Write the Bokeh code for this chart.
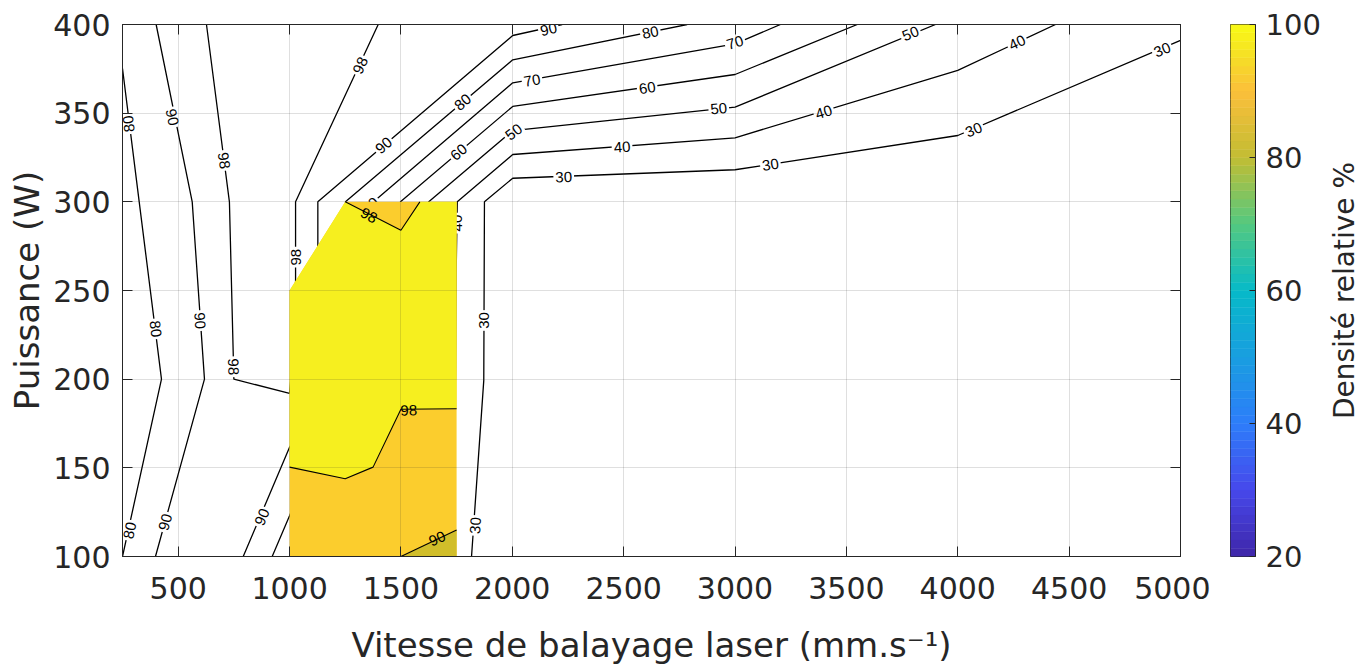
import numpy as np
from bokeh.plotting import figure
from bokeh.models import LinearAxis, FixedTicker, Range1d
from bokeh.layouts import row
from bokeh.embed import file_html
from bokeh.resources import INLINE
from bokeh.core.properties import value

# ---------------- data ----------------
x_ticks = [500, 1000, 1500, 2000, 2500, 3000, 3500, 4000, 4500, 5000]
y_ticks = [100, 150, 200, 250, 300, 350, 400]
cbar_ticks = [20, 40, 60, 80, 100]

# iso-density lines of the large map (x: mm/s, y: W)
c30_x = [5000, 4000, 3000, 2002, 1875, 1872, 1817]
c30_y = [391, 337.4, 318.1, 313.3, 300, 199.3, 100]
c40_x = [4439, 4000, 3000, 2002, 1753, 1748, 1745]
c40_y = [400, 374.1, 336.1, 326.7, 300, 260, 200]
c50_x = [3900, 3000, 2002, 1625, 1625]
c50_y = [400, 353.4, 340.2, 300, 270]
c60_x = [3549, 3000, 2002, 1498, 1498]
c60_y = [400, 371.8, 353.8, 300, 270]
c70_x = [3204, 3000, 2002, 1377, 1400]
c70_y = [400, 389.1, 367.1, 300, 270]
c80a_x = [2785, 2002, 1251, 1300]
c80a_y = [400, 380.1, 300, 270]
c80b_x = [250, 325, 425, 250]
c80b_y = [375.2, 300, 200, 100]
c90a_x = [2224, 2002, 1127, 1127]
c90a_y = [400, 393.8, 300, 250]
c90b_x = [401, 563, 618, 398]
c90b_y = [400, 300, 200, 100]
c90c_x = [792, 1000, 1040]
c90c_y = [100, 161.6, 170]
c98a_x = [627, 730, 750, 1000, 1027, 1027, 1398]
c98a_y = [400, 300, 200, 192, 230, 300, 400]
c98b_x = [922, 1000, 1040]
c98b_y = [100, 123, 135]

# filled zone (refined map)
zone_x = [1000, 1000, 1250, 1750, 1750]
zone_y = [100, 250, 300, 300, 100]
band98_x = [1000, 1250, 1500, 1585, 1750, 1750, 1500, 1375, 1250, 1000]
band98_y = [250, 300, 284, 300, 300, 183.3, 183, 150.4, 143.8, 150.4]
band80_x = [1500, 1750, 1750]
band80_y = [100, 115, 100]
f98a_x = [1250, 1500, 1585]
f98a_y = [300, 284, 300]
f98b_x = [1000, 1250, 1375, 1500, 1750]
f98b_y = [150.4, 143.8, 150.4, 183, 183.3]
f90_x = [1500, 1750]
f90_y = [100, 115]

# contour labels: text, x, y, angle (deg)
lab_text = ["80", "80", "80", "90", "90", "90", "98", "98", "90", "98", "98", "90", "80", "70", "60", "40",
            "90", "80", "70", "70", "60", "50", "50", "50", "40", "40", "40", "30", "30", "30", "30", "30", "30"]
lab_x = [278, 398, 283, 473, 597, 443, 705, 747, 877, 1318, 1027, 1423, 1778, 1363, 1760, 1750,
         2163, 2620, 2089, 3000, 2606, 2007, 2927, 3788, 2493, 3399, 4267, 2231, 3159, 4072, 4918, 1872, 1835]
lab_y = [344, 228.4, 114.7, 347.7, 233, 119.4, 323.3, 207, 122.2, 376.9, 268.8, 331.8, 356.2, 297.9, 328, 288,
         397.2, 395.5, 368.4, 389.7, 364.1, 339.3, 352.5, 394.8, 330.8, 350.5, 389.7, 313.9, 320.9, 340.6, 385.7, 233.1, 117.5]
lab_ang = [97, -83, 77.6, -78.5, -86, 74.6, -82.6, -88.6, 66.9, 65, 90, 40.5, 40.3, 40, 40.3, 90,
           12.5, 11.4, 10, 17, 8.2, 38, 6, 22.5, 4.3, 16.9, 25, 2.2, 8.8, 23, 23, 90, 86]

fl_text = ["98", "98", "90"]
fl_x = [1356, 1535, 1663]
fl_y = [292.3, 182.3, 110]
fl_ang = [-27.5, 2, 24.6]

# ---------------- style ----------------
AX = "#262626"
FONT = "DejaVu Sans"
CFONT = "Liberation Sans"
YELLOW = "#F6EF1F"
ORANGE = "#FBCD2D"
OLIVE = "#D1BE2A"
H = 668
TOP = 24
BOTTOM = 112

p = figure(width=1210, height=H, output_backend="svg", toolbar_location=None,
           x_range=Range1d(250, 5000), y_range=Range1d(100, 400),
           min_border_left=122, min_border_right=30, min_border_top=TOP, min_border_bottom=BOTTOM)
p.outline_line_color = AX
p.background_fill_color = "white"

for xs, ys in [(c30_x, c30_y), (c40_x, c40_y), (c50_x, c50_y), (c60_x, c60_y), (c70_x, c70_y),
               (c80a_x, c80a_y), (c80b_x, c80b_y), (c90a_x, c90a_y), (c90b_x, c90b_y),
               (c90c_x, c90c_y), (c98a_x, c98a_y), (c98b_x, c98b_y)]:
    p.line(xs, ys, line_color="black", line_width=1.3)

p.text(x=lab_x, y=lab_y, text=lab_text, angle=lab_ang, angle_units="deg",
       text_align="center", text_baseline="middle", text_font=value(CFONT),
       text_font_size="15px", text_color="black",
       background_fill_color="white", padding=2)

p.patch(zone_x, zone_y, fill_color=ORANGE, line_color=None)
p.patch(band98_x, band98_y, fill_color=YELLOW, line_color=None)
p.patch(band80_x, band80_y, fill_color=OLIVE, line_color=None)
for xs, ys in [(f98a_x, f98a_y), (f98b_x, f98b_y), (f90_x, f90_y)]:
    p.line(xs, ys, line_color="black", line_width=1.1)
p.text(x=fl_x, y=fl_y, text=fl_text, angle=fl_ang, angle_units="deg",
       text_align="center", text_baseline="middle", text_font=value(CFONT),
       text_font_size="15px", text_color="black")

p.grid.grid_line_color = AX
p.grid.grid_line_alpha = 0.15
p.grid.level = "overlay"
p.xgrid.ticker = FixedTicker(ticks=x_ticks)
p.ygrid.ticker = FixedTicker(ticks=y_ticks)


def style_axis(a, size="30px"):
    a.axis_line_color = AX
    a.major_tick_line_color = AX
    a.major_tick_in = 10
    a.major_tick_out = 0
    a.minor_tick_in = 0
    a.minor_tick_out = 0
    a.major_label_text_color = AX
    a.major_label_text_font = FONT
    a.major_label_text_font_size = size


p.xaxis.ticker = FixedTicker(ticks=x_ticks)
p.yaxis.ticker = FixedTicker(ticks=y_ticks)
style_axis(p.xaxis[0])
style_axis(p.yaxis[0])
p.xaxis.major_label_standoff = 20
p.yaxis.major_label_standoff = 12
p.xaxis.axis_label = "Vitesse de balayage laser (mm.s\u207b\u00b9)"
p.yaxis.axis_label = "Puissance (W)"
for a in (p.xaxis[0], p.yaxis[0]):
    a.axis_label_text_font = FONT
    a.axis_label_text_font_size = "34px"
    a.axis_label_text_font_style = "normal"
    a.axis_label_text_color = AX
p.xaxis.axis_label_standoff = 23
p.yaxis.axis_label_standoff = 3

# mirrored tick marks on the top and right sides (no labels)
top = LinearAxis(ticker=FixedTicker(ticks=x_ticks),
                 major_label_overrides={t: "" for t in x_ticks})
style_axis(top, "10px")
top.major_label_standoff = 0
p.add_layout(top, "above")
right = LinearAxis(ticker=FixedTicker(ticks=y_ticks),
                   major_label_overrides={t: "" for t in y_ticks})
style_axis(right, "10px")
right.major_label_standoff = 0
p.add_layout(right, "right")

# ---------------- colour bar ----------------
anchors = [(0.0, (62, 38, 168)), (0.125, (71, 72, 235)), (0.25, (45, 125, 250)),
           (0.375, (25, 158, 224)), (0.5, (6, 186, 200)), (0.625, (84, 201, 128)),
           (0.75, (194, 189, 51)), (0.875, (252, 191, 59)), (0.9375, (245, 222, 38)),
           (1.0, (249, 251, 21))]
n = 64
pos = [a[0] for a in anchors]
cols = []
for i in range(n):
    t = (i + 0.5) / n
    rgb = [int(round(np.interp(t, pos, [a[1][k] for a in anchors]))) for k in range(3)]
    cols.append("#%02x%02x%02x" % tuple(rgb))
edges = np.linspace(cbar_ticks[0], cbar_ticks[-1], n + 1)

cb = figure(width=114, height=H, output_backend="svg", toolbar_location=None,
            x_range=Range1d(0, 1), y_range=Range1d(20, 100),
            x_axis_location=None, y_axis_location="right",
            min_border_left=20, min_border_right=69, min_border_top=TOP, min_border_bottom=BOTTOM)
cb.quad(left=0, right=1, bottom=edges[:-1], top=edges[1:], fill_color=cols, line_color=cols, line_width=0.5)
cb.grid.visible = False
cb.outline_line_color = AX
cb.yaxis.ticker = FixedTicker(ticks=cbar_ticks)
style_axis(cb.yaxis[0], "29px")
cb.yaxis.major_tick_in = 6
cb.yaxis.major_label_standoff = 10

# colour-bar title, as the left-axis label of a thin strip
tl = figure(width=36, height=H, output_backend="svg", toolbar_location=None,
            x_range=Range1d(0, 1), y_range=Range1d(20, 100),
            x_axis_location=None, y_axis_location="left",
            min_border_left=34, min_border_right=0, min_border_top=TOP, min_border_bottom=BOTTOM)
tl.outline_line_color = None
tl.grid.visible = False
ta = tl.yaxis[0]
ta.ticker = FixedTicker(ticks=[])
ta.axis_line_color = None
ta.major_tick_line_color = None
ta.minor_tick_line_color = None
ta.major_label_standoff = 0
ta.axis_label = "Densité relative %"
ta.axis_label_text_font = FONT
ta.axis_label_text_font_size = "28px"
ta.axis_label_text_font_style = "normal"
ta.axis_label_text_color = AX
ta.axis_label_standoff = 0

layout = row(p, cb, tl)
open("out.html", "w").write(file_html(layout, INLINE))
